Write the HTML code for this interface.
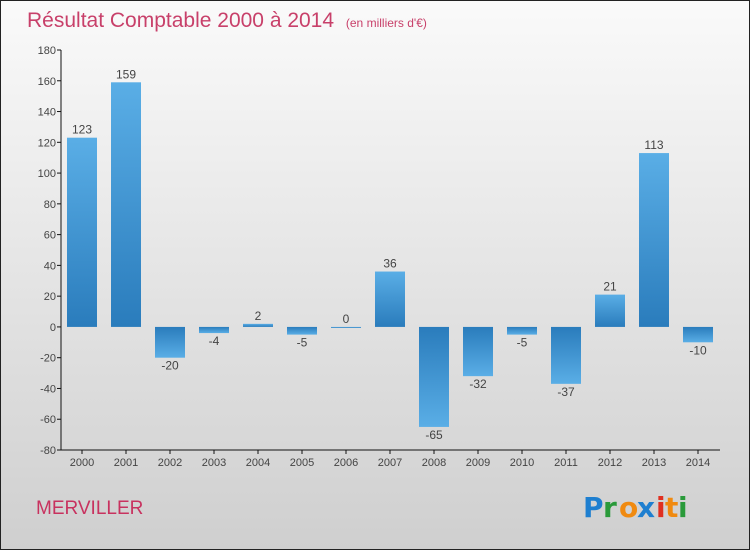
<!DOCTYPE html>
<html><head><meta charset="utf-8">
<style>
html,body{margin:0;padding:0;}
body{width:750px;height:550px;overflow:hidden;font-family:"Liberation Sans",sans-serif;}
#frame{position:absolute;left:0;top:0;width:748px;height:548px;border:1px solid #222;background:linear-gradient(#fafafa,#cfcfcf);}
</style></head>
<body>
<div id="frame">
<svg id="chart" width="750" height="550" style="position:absolute;left:-1px;top:-1px">
<defs>
<linearGradient id="gpos" x1="0" y1="0" x2="0" y2="1"><stop offset="0" stop-color="#5aaee6"/><stop offset="1" stop-color="#2a7cbc"/></linearGradient>
<linearGradient id="gneg" x1="0" y1="0" x2="0" y2="1"><stop offset="0" stop-color="#2a7cbc"/><stop offset="1" stop-color="#5aaee6"/></linearGradient>
</defs>
<text x="27" y="27" font-size="21" fill="#c8406a">Résultat Comptable 2000 à 2014 <tspan font-size="12" dx="6">(en milliers d'€)</tspan></text>
<text x="36" y="514" font-size="19" fill="#c8325f">MERVILLER</text>
<g font-size="28" font-weight="bold" font-family="'DejaVu Sans',sans-serif">
<text x="583" y="517" fill="#1e7fd0">P</text><text x="603" y="517" fill="#2a9a3a">r</text><text x="619" y="517" fill="#f08a10">o</text><text x="637" y="517" fill="#1e7fd0">x</text><text x="656" y="517" fill="#e03020">i</text><text x="665" y="517" fill="#f08a10">t</text><text x="678" y="517" fill="#2a9a3a">i</text>
</g>
</svg>
</div>
<script>
const categories=["2000","2001","2002","2003","2004","2005","2006","2007","2008","2009","2010","2011","2012","2013","2014"];
const values=[123,159,-20,-4,2,-5,0,36,-65,-32,-5,-37,21,113,-10];
const yTicks=[180,160,140,120,100,80,60,40,20,0,-20,-40,-60,-80];
const svg=document.getElementById('chart');
const NS='http://www.w3.org/2000/svg';
const yMin=-80,yMax=180,plotTop=50,plotBot=450;
const y=v=>plotBot-(v-yMin)/(yMax-yMin)*(plotBot-plotTop);
const x=i=>82+i*44;
function el(t,a){const e=document.createElementNS(NS,t);for(const k in a)e.setAttribute(k,a[k]);svg.appendChild(e);return e;}
const ax=el('line',{x1:61,y1:plotTop,x2:61,y2:plotBot,stroke:'#111'});


const xa=el('line',{x1:61,y1:plotBot,x2:720,y2:plotBot,stroke:'#111'});


yTicks.forEach(v=>{
 const t=el('line',{x1:57,y1:y(v),x2:61,y2:y(v),stroke:'#111'});
 
 
 const l=el('text',{x:56,y:y(v)+4,'font-size':11,fill:'#444','text-anchor':'end'});
 l.textContent=v;
 
 
});
categories.forEach((c,i)=>{
 const t=el('line',{x1:x(i),y1:plotBot,x2:x(i),y2:plotBot+4,stroke:'#111'});
 
 
 const l=el('text',{x:x(i),y:plotBot+16,'font-size':11,fill:'#444','text-anchor':'middle'});
 l.textContent=c;
 
 
 const v=values[i];
 const y0=y(0),y1=y(v);
 const h=Math.max(Math.abs(y1-y0),1);
 const b=el('rect',{x:x(i)-15,y:Math.min(y0,y1),width:30,height:h,fill:v>=0?'url(#gpos)':'url(#gneg)'});
 
 
 const vl=el('text',{x:x(i),y:v>=0?y1-4:y1+12,'font-size':12,fill:'#444','text-anchor':'middle'});
 vl.textContent=v;
 
 
});
</script>
</body></html>
